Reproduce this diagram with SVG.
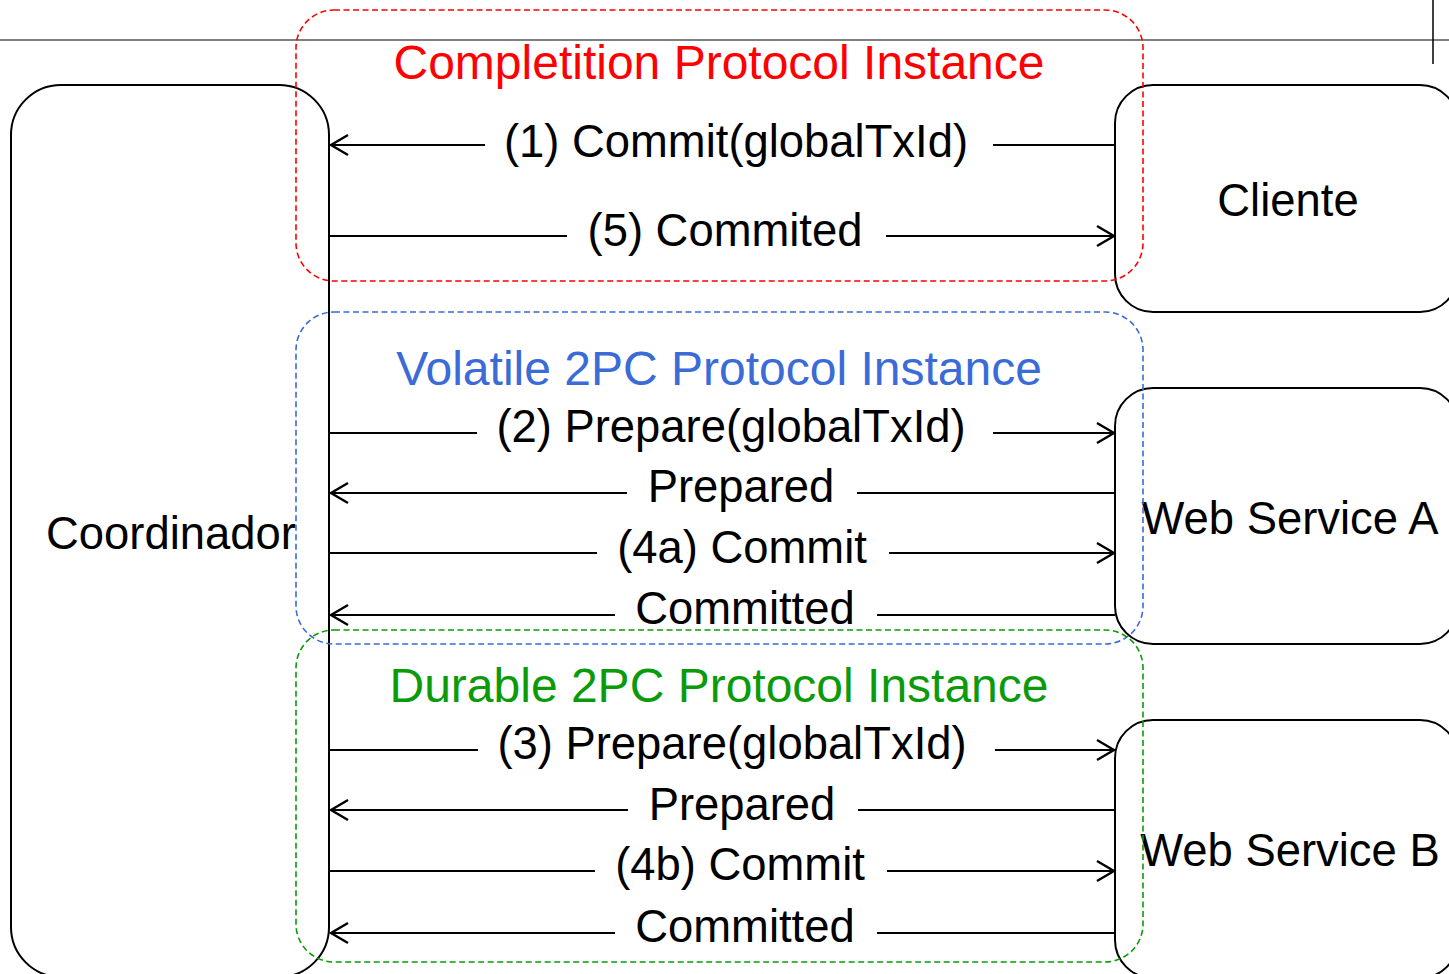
<svg xmlns="http://www.w3.org/2000/svg" width="1449" height="974" viewBox="0 0 1449 974">
  <style>
    text { font-family: "Liberation Sans", Arial, sans-serif; }
    .lbl { font-size: 45.4px; fill: #000; text-anchor: middle; }
    .title { font-size: 48px; text-anchor: middle; }
    .box { fill: none; stroke: #000; stroke-width: 2; }
    .grp { fill: none; stroke-width: 1.6; stroke-dasharray: 6 3.5; }
    .msg { fill: none; stroke: #000; stroke-width: 2.2; }
    .fwd { marker-end: url(#open); }
  </style>
  <defs>
    <marker id="open" markerUnits="userSpaceOnUse" markerWidth="24" markerHeight="24" refX="17" refY="10" orient="auto" overflow="visible">
      <polyline points="0,0 17,10 0,20" fill="none" stroke="#000" stroke-width="2.4"/>
    </marker>
  </defs>

  <!-- page rule lines -->
  <line x1="0" y1="40" x2="1449" y2="40" stroke="#555" stroke-width="1.5"/>
  <line x1="1433" y1="0" x2="1433" y2="64" stroke="#000" stroke-width="1.5"/>

  <!-- participants -->
  <g id="coordinador">
    <rect class="box" x="11" y="85" width="318" height="892" rx="50" ry="50"/>
    <text class="lbl" x="171" y="549">Coordinador</text>
  </g>
  <g id="cliente">
    <rect class="box" x="1115" y="85" width="343" height="227" rx="38" ry="38"/>
    <text class="lbl" x="1288" y="216">Cliente</text>
  </g>
  <g id="ws-a">
    <rect class="box" x="1115" y="388" width="343" height="256" rx="38" ry="38"/>
    <text class="lbl" x="1290" y="534">Web Service A</text>
  </g>
  <g id="ws-b">
    <rect class="box" x="1115" y="720" width="343" height="258" rx="38" ry="38"/>
    <text class="lbl" x="1290" y="866">Web Service B</text>
  </g>

  <!-- protocol instance frames -->
  <g id="completion">
    <rect class="grp" x="296" y="10" width="847" height="271" rx="38" ry="38" stroke="#ff0000"/>
    <text class="title" x="719" y="79" fill="#ff0000">Completition Protocol Instance</text>
  </g>
  <g id="volatile">
    <rect class="grp" x="296" y="312" width="847" height="332" rx="38" ry="38" stroke="#3a6bd6"/>
    <text class="title" x="719" y="385" fill="#3a6bd6">Volatile 2PC Protocol Instance</text>
  </g>
  <g id="durable">
    <rect class="grp" x="296" y="630" width="847" height="332" rx="38" ry="38" stroke="#0a9a0a"/>
    <text class="title" x="719" y="702" fill="#0a9a0a">Durable 2PC Protocol Instance</text>
  </g>

  <!-- messages -->
  <g id="connectors">
    <line class="msg" x1="1115" y1="145" x2="993" y2="145"/>
    <line class="msg fwd" x1="485" y1="145" x2="331" y2="145"/>
    <line class="msg" x1="330" y1="236" x2="567" y2="236"/>
    <line class="msg fwd" x1="886" y1="236" x2="1114" y2="236"/>

    <line class="msg" x1="330" y1="433" x2="477" y2="433"/>
    <line class="msg fwd" x1="993" y1="433" x2="1114" y2="433"/>
    <line class="msg" x1="1115" y1="493" x2="857" y2="493"/>
    <line class="msg fwd" x1="627" y1="493" x2="331" y2="493"/>
    <line class="msg" x1="330" y1="553" x2="597" y2="553"/>
    <line class="msg fwd" x1="889" y1="553" x2="1114" y2="553"/>
    <line class="msg" x1="1115" y1="615" x2="877" y2="615"/>
    <line class="msg fwd" x1="615" y1="615" x2="331" y2="615"/>

    <line class="msg" x1="330" y1="750" x2="478" y2="750"/>
    <line class="msg fwd" x1="995" y1="750" x2="1114" y2="750"/>
    <line class="msg" x1="1115" y1="810" x2="858" y2="810"/>
    <line class="msg fwd" x1="628" y1="810" x2="331" y2="810"/>
    <line class="msg" x1="330" y1="871" x2="595" y2="871"/>
    <line class="msg fwd" x1="887" y1="871" x2="1114" y2="871"/>
    <line class="msg" x1="1115" y1="933" x2="877" y2="933"/>
    <line class="msg fwd" x1="615" y1="933" x2="331" y2="933"/>

    <text class="lbl" x="736" y="157">(1) Commit(globalTxId)</text>
    <text class="lbl" x="725" y="246">(5) Commited</text>
    <text class="lbl" x="731" y="442">(2) Prepare(globalTxId)</text>
    <text class="lbl" x="741" y="502">Prepared</text>
    <text class="lbl" x="742" y="563">(4a) Commit</text>
    <text class="lbl" x="745" y="624">Committed</text>
    <text class="lbl" x="732" y="759">(3) Prepare(globalTxId)</text>
    <text class="lbl" x="742" y="820">Prepared</text>
    <text class="lbl" x="740" y="880">(4b) Commit</text>
    <text class="lbl" x="745" y="942">Committed</text>
  </g>
</svg>
